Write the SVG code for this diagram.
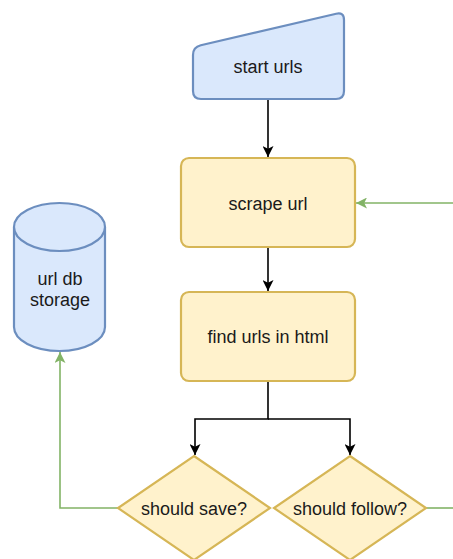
<svg xmlns="http://www.w3.org/2000/svg" width="453" height="559" viewBox="0 0 453 559">
  <style>
    .blue { fill: #dae8fc; stroke: #6c8ebf; stroke-width: 2.2; }
    .yellow { fill: #fff2cc; stroke: #d6b656; stroke-width: 2.2; }
    .label { font-family: "Liberation Sans", Arial, sans-serif; font-size: 18px; fill: #1a1a1a; text-anchor: middle; dominant-baseline: central; }
    .flow { fill: none; stroke: #000; stroke-width: 1.6; }
    .green { fill: none; stroke: #82b366; stroke-width: 1.6; }
  </style>
  <defs>
    <marker id="arrowBlack" viewBox="0 0 10 10" refX="10" refY="5" markerWidth="11" markerHeight="11" markerUnits="userSpaceOnUse" orient="auto">
      <path d="M0,0 L10,5 L0,10 L2.5,5 Z" fill="#000"/>
    </marker>
    <marker id="arrowGreen" viewBox="0 0 10 10" refX="10" refY="5" markerWidth="11" markerHeight="11" markerUnits="userSpaceOnUse" orient="auto">
      <path d="M0,0 L10,5 L0,10 L2.5,5 Z" fill="#82b366"/>
    </marker>
  </defs>

  <g id="connectors">
    <path class="flow" d="M268,99 L268,157" marker-end="url(#arrowBlack)"/>
    <path class="flow" d="M268,247 L268,291" marker-end="url(#arrowBlack)"/>
    <path class="flow" d="M268,381 L268,419 L195,419 L195,455" marker-end="url(#arrowBlack)"/>
    <path class="flow" d="M268,419 L350,419 L350,455" marker-end="url(#arrowBlack)"/>
    <path class="green" d="M118,508 L60,508 L60,352" marker-end="url(#arrowGreen)"/>
    <path class="green" d="M425,508 L453,508"/>
    <path class="green" d="M453,203 L356,203" marker-end="url(#arrowGreen)"/>
  </g>

  <g id="start-urls">
    <path class="blue" d="M193,91 L193,55 Q193,47 200.8,45.2 L336.2,13.8 Q344,12 344,20 L344,91 Q344,99 336,99 L201,99 Q193,99 193,91 Z"/>
    <text class="label" x="268" y="67">start urls</text>
  </g>

  <g id="scrape-url">
    <rect class="yellow" x="181" y="158" width="174" height="89" rx="8" ry="8"/>
    <text class="label" x="268" y="204">scrape url</text>
  </g>

  <g id="find-urls">
    <rect class="yellow" x="181" y="292" width="174" height="89" rx="8" ry="8"/>
    <text class="label" x="268" y="337">find urls in html</text>
  </g>

  <g id="url-db">
    <path class="blue" d="M14,227 L14,327 A45.5,24 0 0 0 105,327 L105,227 A45.5,24 0 0 0 14,227 Z"/>
    <path class="blue" d="M14,227 A45.5,24 0 0 0 105,227" fill="none"/>
    <text class="label" x="60" y="279">url db</text>
    <text class="label" x="60" y="300">storage</text>
  </g>

  <g id="should-save">
    <path class="yellow" d="M194,456 L270,508 L194,560 L118,508 Z"/>
    <text class="label" x="194" y="509">should save?</text>
  </g>

  <g id="should-follow">
    <path class="yellow" d="M350,456 L426,508 L350,560 L274,508 Z"/>
    <text class="label" x="350" y="509">should follow?</text>
  </g>
</svg>
